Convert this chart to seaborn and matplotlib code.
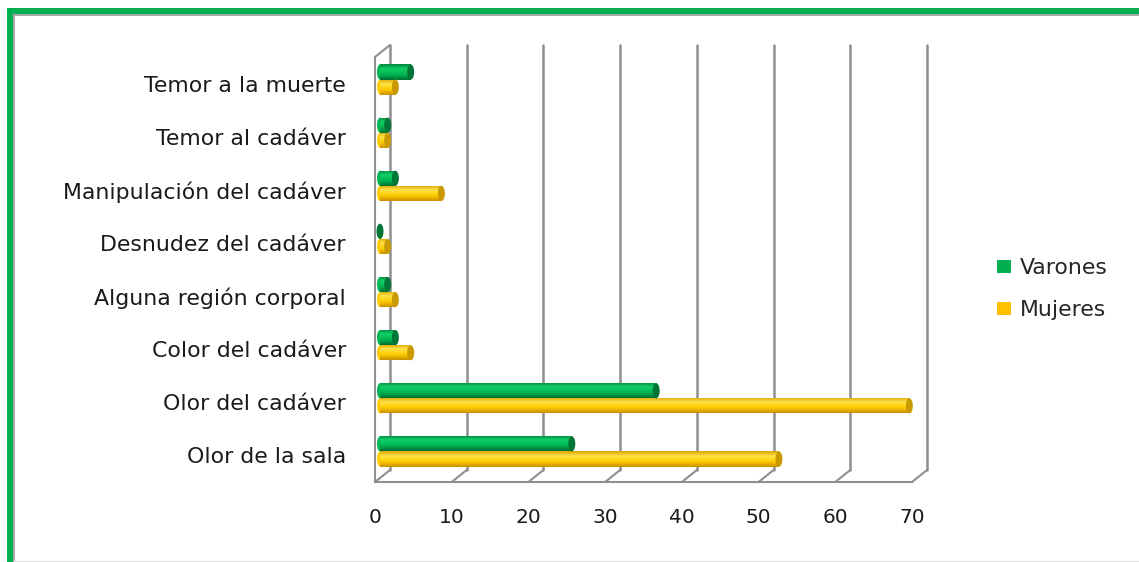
import numpy as np
import pandas as pd
import matplotlib
matplotlib.use("Agg")
import matplotlib.pyplot as plt
import matplotlib.transforms as mtransforms
from matplotlib.patches import Rectangle, Ellipse, Patch
from matplotlib.lines import Line2D
import seaborn as sns

# Datos
categorias = ["Temor a la muerte", "Temor al cadáver", "Manipulación del cadáver",
              "Desnudez del cadáver", "Alguna región corporal", "Color del cadáver",
              "Olor del cadáver", "Olor de la sala"]
varones = [4, 1, 2, 0, 1, 2, 36, 25]
mujeres = [2, 1, 8, 1, 2, 4, 69, 52]
series = ["Varones", "Mujeres"]
xticks = [0, 10, 20, 30, 40, 50, 60, 70]

colores = {"Varones": "#00B050", "Mujeres": "#FFC000"}
grad = {"Varones": ["#00873d", "#12cf66", "#00b552", "#006f30"],
        "Mujeres": ["#d9a300", "#ffe24a", "#ffcc00", "#c99000"]}
tapa = {"Varones": "#007535", "Mujeres": "#c99a00"}
gris = "#8f8f8f"
FS_CAT = 15.8
FS_NUM = 14.5

df = pd.DataFrame({
    "categoria": categorias * 2,
    "valor": varones + mujeres,
    "sexo": ["Varones"] * len(categorias) + ["Mujeres"] * len(categorias),
})

sns.set_theme(style="white")
plt.rcParams["font.family"] = ["DejaVu Sans"]

W, H = 1139, 562
fig = plt.figure(figsize=(W / 100, H / 100), dpi=100)
fig.patch.set_facecolor("white")

# eje frontal: 0 -> x=375 px, 70 -> x=912 px ; arriba y=57, abajo y=482
ax = fig.add_axes([375 / W, (H - 482) / H, 537 / W, 425 / H])
sns.barplot(data=df, y="categoria", x="valor", hue="sexo", hue_order=series,
            order=categorias, palette=colores, orient="h", width=0.57, gap=0,
            dodge=True, ax=ax, legend=False, saturation=1)

ax.set_xlim(0, 70)
ax.set_ylim(len(categorias) - 0.5, -0.5)
ppx = 537 / 70.0
ppy = 425 / float(len(categorias))

# profundidad 3D (pared del fondo) y posición de las barras
dx_back, dy_back = 15 / ppx, 12 / ppy
bar_off = mtransforms.offset_copy(ax.transData, fig=fig, x=5, y=4, units="dots")

bars = list(ax.patches)
n = len(categorias)
for i, p in enumerate(bars):
    s = series[i // n]
    x0, y0 = p.get_x(), p.get_y()
    w, h = p.get_width(), p.get_height()
    p.set_transform(bar_off)
    p.set_clip_on(False)
    p.set_facecolor(colores[s])
    p.set_edgecolor("none")
    p.set_zorder(3)
    # inicio redondeado
    e0 = Ellipse((x0, y0 + h / 2), 6 / ppx, h, facecolor=grad[s][2],
                 edgecolor="none", transform=bar_off, zorder=2.9, clip_on=False)
    ax.add_patch(e0)
    # degradado cilíndrico
    if w > 0:
        cmap = matplotlib.colors.LinearSegmentedColormap.from_list(
            "c", list(zip([0, 0.3, 0.65, 1], grad[s])))
        g = np.linspace(0, 1, 64).reshape(-1, 1)
        im = ax.imshow(g, cmap=cmap, extent=(x0, x0 + w, y0 + h, y0),
                       origin="upper", aspect="auto", zorder=3.1,
                       interpolation="bilinear")
        im.set_transform(bar_off)
        im.set_clip_path(p)
        im.set_clip_on(True)
    # tapa final
    e1 = Ellipse((x0 + w, y0 + h / 2), 7 / ppx, h, facecolor=tapa[s],
                 edgecolor="none", transform=bar_off, zorder=3.2, clip_on=False)
    ax.add_patch(e1)

ax.set_xlim(0, 70)
ax.set_ylim(len(categorias) - 0.5, -0.5)
ybot, ytop = len(categorias) - 0.5, -0.5

# pared del fondo: líneas de cuadrícula y diagonales del suelo
for t in xticks:
    ax.plot([t + dx_back, t + dx_back], [ybot - dy_back, ytop - dy_back],
            color=gris, lw=1.8, clip_on=False, zorder=1)
    ax.plot([t, t + dx_back], [ybot, ybot - dy_back],
            color=gris, lw=1.5, clip_on=False, zorder=1)
ax.plot([0, dx_back], [ytop, ytop - dy_back], color=gris, lw=1.5,
        clip_on=False, zorder=1)

# ejes frontales
for side in ["top", "right"]:
    ax.spines[side].set_visible(False)
for side in ["left", "bottom"]:
    ax.spines[side].set_color(gris)
    ax.spines[side].set_linewidth(1.5)

ax.set_xticks(xticks)
ax.set_xticklabels([str(t) for t in xticks], fontsize=FS_NUM, color="#1a1a1a")
ax.tick_params(axis="x", direction="out", length=5, width=1.5, color=gris, pad=14)
ax.set_yticks(np.arange(-0.5, len(categorias), 1.0))
ax.set_yticklabels([])
ax.set_yticks(np.arange(len(categorias)), minor=True)
ax.set_yticklabels(categorias, minor=True, fontsize=FS_CAT, color="#1a1a1a")
ax.tick_params(axis="y", which="major", direction="out", length=5, width=1.5, color=gris)
ax.tick_params(axis="y", which="minor", length=0, pad=21)
ax.set_xlabel("")
ax.set_ylabel("")
ax.grid(False)
ax.set_facecolor("none")

# leyenda
handles = [Patch(facecolor=colores[s], edgecolor="none", label=s) for s in series]
fig.legend(handles=handles, loc="center left", bbox_to_anchor=(997 / W, 1 - 289 / H),
           frameon=False, fontsize=FS_CAT, handlelength=0.62, handleheight=0.55,
           handletextpad=0.4, labelspacing=1.0, borderaxespad=0, borderpad=0)

# marco verde (izquierda y arriba)
fig.add_artist(Rectangle((7 / W, 0), 6 / W, 1 - 8 / H, transform=fig.transFigure,
                         facecolor="#00B050", edgecolor="none"))
fig.add_artist(Rectangle((7 / W, 1 - 14 / H), 1 - 7 / W, 6 / H,
                         transform=fig.transFigure, facecolor="#00B050", edgecolor="none"))
fig.add_artist(Line2D([13.8 / W, 13.8 / W], [0, 1 - 14 / H], transform=fig.transFigure,
                      color="#9a9a9a", lw=1.2))
fig.add_artist(Line2D([13 / W, 1], [1 - 14.8 / H, 1 - 14.8 / H], transform=fig.transFigure,
                      color="#9a9a9a", lw=1.2))
fig.add_artist(Line2D([14 / W, 1], [1 - 560.5 / H, 1 - 560.5 / H], transform=fig.transFigure,
                      color="#e3e3e3", lw=1.0))

plt.savefig("out.png", dpi=100, facecolor="white")
